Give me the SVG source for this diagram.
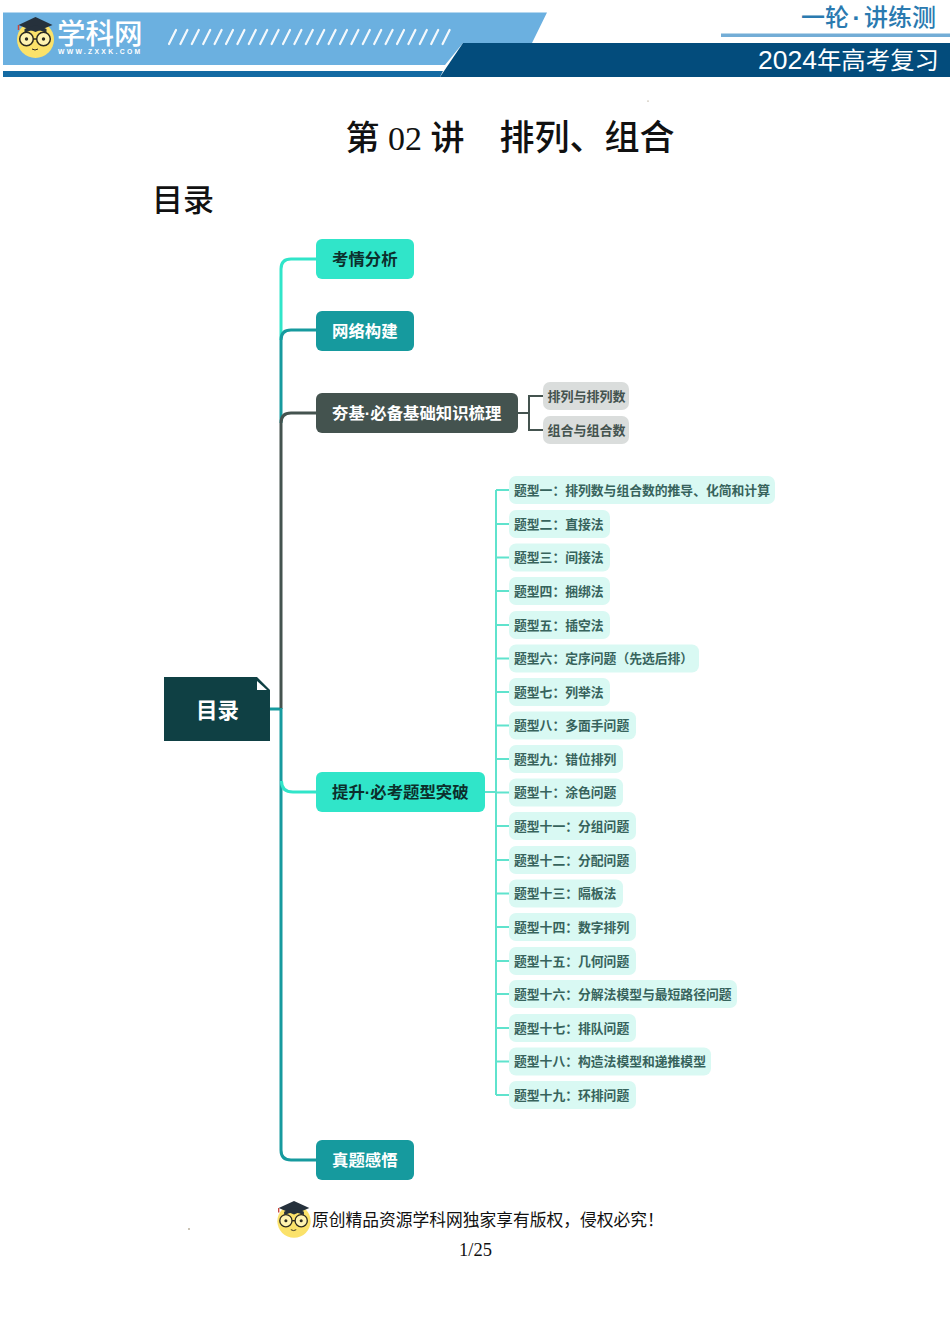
<svg xmlns="http://www.w3.org/2000/svg" width="950" height="1344" viewBox="0 0 950 1344">
<style>
text{font-family:"Noto Sans CJK SC","Noto Sans",sans-serif}
.serif{font-family:"Liberation Serif","Noto Sans CJK SC",serif;fill:#111}
.d{font-family:"Liberation Sans",sans-serif}
.n{font-size:16.4px;font-weight:700}
.w{fill:#fff}.k{fill:#0c2f2c}
.g{font-size:13px;font-weight:700;fill:#44534f}
.t{font-size:12.8px;font-weight:700;fill:#37635c}
.b{fill:#d9f9f3}
.c{fill:none;stroke-width:3}
.l{fill:none;stroke:#5fe3cd;stroke-width:2}
.s{stroke:#fff;stroke-width:2.2;stroke-linecap:round;opacity:.92}
</style>
<defs>
<symbol id="mascot" viewBox="0 0 40 44">
<circle cx="20" cy="25.500" r="18.500" fill="#fbe26a"/>
<path d="M3 11 20 3 37 11 20 18Z" fill="#26313c"/>
<path d="M9 15Q20 8 31 15V19Q20 13 9 19Z" fill="#26313c"/>
<path d="M3 11V16" stroke="#c8453c" stroke-width="1.500"/>
<circle cx="11" cy="25" r="6.800" fill="#fff3b0" stroke="#2c2a20" stroke-width="1.500"/>
<circle cx="28" cy="25" r="6.800" fill="#fff3b0" stroke="#2c2a20" stroke-width="1.500"/>
<path d="M17.800 25H21.200" stroke="#2c2a20" stroke-width="1.500"/>
<circle cx="11" cy="25" r="1.700" fill="#2c2a20"/>
<circle cx="28" cy="25" r="1.700" fill="#2c2a20"/>
<path d="M16.500 35Q19.500 37 22.500 35" fill="none" stroke="#2c2a20" stroke-width="1"/>
</symbol>
</defs>

<g id="header">
<path d="M3 12.500H547L532 43H463L445 65H3Z" fill="#6bb0e0"/>
<path d="M3 71H443L440 77H3Z" fill="#146aa3"/>
<path d="M463 43H950V77H440Z" fill="#034c7c"/>
<rect x="721" y="33.500" width="229" height="3.500" fill="#73add6"/>
<g id="slashes">
<path class="s" d="M169 44 176 30M180.400 44 187.400 30M191.800 44 198.800 30M203.200 44 210.200 30M214.600 44 221.600 30M226 44 233 30M237.400 44 244.400 30M248.800 44 255.800 30M260.200 44 267.200 30M271.600 44 278.600 30M283 44 290 30M294.400 44 301.400 30M305.800 44 312.800 30M317.200 44 324.200 30M328.600 44 335.600 30M340 44 347 30M351.400 44 358.400 30M362.800 44 369.800 30M374.200 44 381.200 30M385.600 44 392.600 30M397 44 404 30M408.400 44 415.400 30M419.800 44 426.800 30M431.200 44 438.200 30M442.600 44 449.600 30"/>
</g>
<use href="#mascot" x="15.500" y="14" width="40" height="44"/>
<text x="57" y="43.500" class="w" font-size="28.500" font-weight="500">学科网</text>
<text x="58" y="54" class="w d" font-size="6.800" font-weight="700" letter-spacing="2.320">WWW.ZXXK.COM</text>
<text x="801" y="26" font-size="24" font-weight="500" fill="#2a7ab0">一轮<tspan class="d" dx="3.500" font-weight="700">·</tspan><tspan dx="3.500">讲练测</tspan></text>
<text x="758" y="69" class="w" font-size="24.400"><tspan class="d" font-size="26.500">2024</tspan>年高考复习</text>
</g>

<g id="title">
<text class="serif" x="345.500" y="150" font-size="34" font-weight="500">第</text>
<text class="serif" x="388" y="150" font-size="34">02</text>
<text class="serif" x="430.500" y="150" font-size="34" font-weight="500">讲</text>
<text class="serif" x="499.500" y="150" font-size="35" font-weight="500">排列、组合</text>
<text class="serif" x="152" y="211" font-size="31" font-weight="500">目录</text>
</g>

<g id="connectors">
<path class="c" stroke="#169a9e" d="M270 709H281"/>
<path class="c" stroke="#30e5c9" d="M281 340V269Q281 259 291 259H316"/>
<path class="c" stroke="#169a9e" d="M281 423V340Q281 330 291 330H316"/>
<path class="c" stroke="#44534f" d="M281 709V423Q281 413 291 413H316"/>
<path class="c" stroke="#169a9e" d="M281 708V1150Q281 1160 291 1160H316"/>
<path class="c" stroke="#30e5c9" d="M281.500 781Q281.500 792 293 792H316"/>
<path fill="none" stroke="#44534f" stroke-width="2" d="M518 413H529M543 396H529V430H543"/>
<path class="l" d="M485 792H496M496 490V1095M509 490H496M509 524H496M509 557.500H496M509 591H496M509 625H496M509 658.500H496M509 692H496M509 725.500H496M509 759H496M509 792.500H496M509 826H496M509 860H496M509 893.500H496M509 927H496M509 961H496M509 994H496M509 1028H496M509 1061.500H496M509 1095H496"/>
</g>

<g id="root"><path d="M164 677H257L270 690V741H164Z" fill="#0f4044"/><path d="M257 681V690H267Z" fill="#fff"/><text x="196" y="717.500" class="w" font-size="21.500" font-weight="700">目录</text></g>
<g id="n-kaoqing"><rect x="316" y="239" width="98" height="40" rx="6" fill="#30e5c9"/><text x="332" y="265" class="n k">考情分析</text></g>
<g id="n-wangluo"><rect x="316" y="311" width="98" height="40" rx="6" fill="#169a9e"/><text x="332" y="337" class="n w">网络构建</text></g>
<g id="n-hangji"><rect x="316" y="393" width="202" height="40" rx="6" fill="#44534f"/><text x="332" y="419" class="n w">夯基<tspan class="d">·</tspan>必备基础知识梳理</text></g>
<g id="n-tisheng"><rect x="316" y="772" width="169" height="40" rx="6" fill="#30e5c9"/><text x="332" y="798" class="n k">提升<tspan class="d">·</tspan>必考题型突破</text></g>
<g id="n-zhenti"><rect x="316" y="1140" width="98" height="40" rx="6" fill="#169a9e"/><text x="332" y="1166" class="n w">真题感悟</text></g>
<g id="c-pailie"><rect x="543" y="382" width="86" height="28" rx="7" fill="#dadddc"/><text x="547.500" y="401" class="g">排列与排列数</text></g>
<g id="c-zuhe"><rect x="543" y="416" width="86" height="28" rx="7" fill="#dadddc"/><text x="547.500" y="435" class="g">组合与组合数</text></g>

<g id="t1"><rect class="b" x="509" y="476" width="266" height="28" rx="7"/><text class="t" x="514" y="494.500">题型一&#xFF1A;排列数与组合数的推导、化简和计算</text></g>
<g id="t2"><rect class="b" x="509" y="510" width="101" height="28" rx="7"/><text class="t" x="514" y="528.500">题型二&#xFF1A;直接法</text></g>
<g id="t3"><rect class="b" x="509" y="543.500" width="101" height="28" rx="7"/><text class="t" x="514" y="562">题型三&#xFF1A;间接法</text></g>
<g id="t4"><rect class="b" x="509" y="577" width="101" height="28" rx="7"/><text class="t" x="514" y="595.500">题型四&#xFF1A;捆绑法</text></g>
<g id="t5"><rect class="b" x="509" y="611" width="101" height="28" rx="7"/><text class="t" x="514" y="629.500">题型五&#xFF1A;插空法</text></g>
<g id="t6"><rect class="b" x="509" y="644.500" width="190" height="28" rx="7"/><text class="t" x="514" y="663">题型六&#xFF1A;定序问题&#xFF08;先选后排&#xFF09;</text></g>
<g id="t7"><rect class="b" x="509" y="678" width="101" height="28" rx="7"/><text class="t" x="514" y="696.500">题型七&#xFF1A;列举法</text></g>
<g id="t8"><rect class="b" x="509" y="711.500" width="127" height="28" rx="7"/><text class="t" x="514" y="730">题型八&#xFF1A;多面手问题</text></g>
<g id="t9"><rect class="b" x="509" y="745" width="114" height="28" rx="7"/><text class="t" x="514" y="763.500">题型九&#xFF1A;错位排列</text></g>
<g id="t10"><rect class="b" x="509" y="778.500" width="114" height="28" rx="7"/><text class="t" x="514" y="797">题型十&#xFF1A;涂色问题</text></g>
<g id="t11"><rect class="b" x="509" y="812" width="127" height="28" rx="7"/><text class="t" x="514" y="830.500">题型十一&#xFF1A;分组问题</text></g>
<g id="t12"><rect class="b" x="509" y="846" width="127" height="28" rx="7"/><text class="t" x="514" y="864.500">题型十二&#xFF1A;分配问题</text></g>
<g id="t13"><rect class="b" x="509" y="879.500" width="114" height="28" rx="7"/><text class="t" x="514" y="898">题型十三&#xFF1A;隔板法</text></g>
<g id="t14"><rect class="b" x="509" y="913" width="127" height="28" rx="7"/><text class="t" x="514" y="931.500">题型十四&#xFF1A;数字排列</text></g>
<g id="t15"><rect class="b" x="509" y="947" width="127" height="28" rx="7"/><text class="t" x="514" y="965.500">题型十五&#xFF1A;几何问题</text></g>
<g id="t16"><rect class="b" x="509" y="980" width="228" height="28" rx="7"/><text class="t" x="514" y="998.500">题型十六&#xFF1A;分解法模型与最短路径问题</text></g>
<g id="t17"><rect class="b" x="509" y="1014" width="127" height="28" rx="7"/><text class="t" x="514" y="1032.500">题型十七&#xFF1A;排队问题</text></g>
<g id="t18"><rect class="b" x="509" y="1047.500" width="202" height="28" rx="7"/><text class="t" x="514" y="1066">题型十八&#xFF1A;构造法模型和递推模型</text></g>
<g id="t19"><rect class="b" x="509" y="1081" width="127" height="28" rx="7"/><text class="t" x="514" y="1099.500">题型十九&#xFF1A;环排问题</text></g>

<g id="footer">
<use href="#mascot" x="276" y="1198" width="36" height="40"/>
<text class="serif" x="312" y="1226" font-size="16.750">原创精品资源学科网独家享有版权&#xFF0C;侵权必究&#xFF01;</text>
<text class="serif" x="459" y="1256" font-size="18.500">1/25</text>
<circle cx="189" cy="1229" r=".8" fill="#8a7a5a"/>
<circle cx="648" cy="101" r=".6" fill="#8a7a5a"/>
</g>
</svg>
